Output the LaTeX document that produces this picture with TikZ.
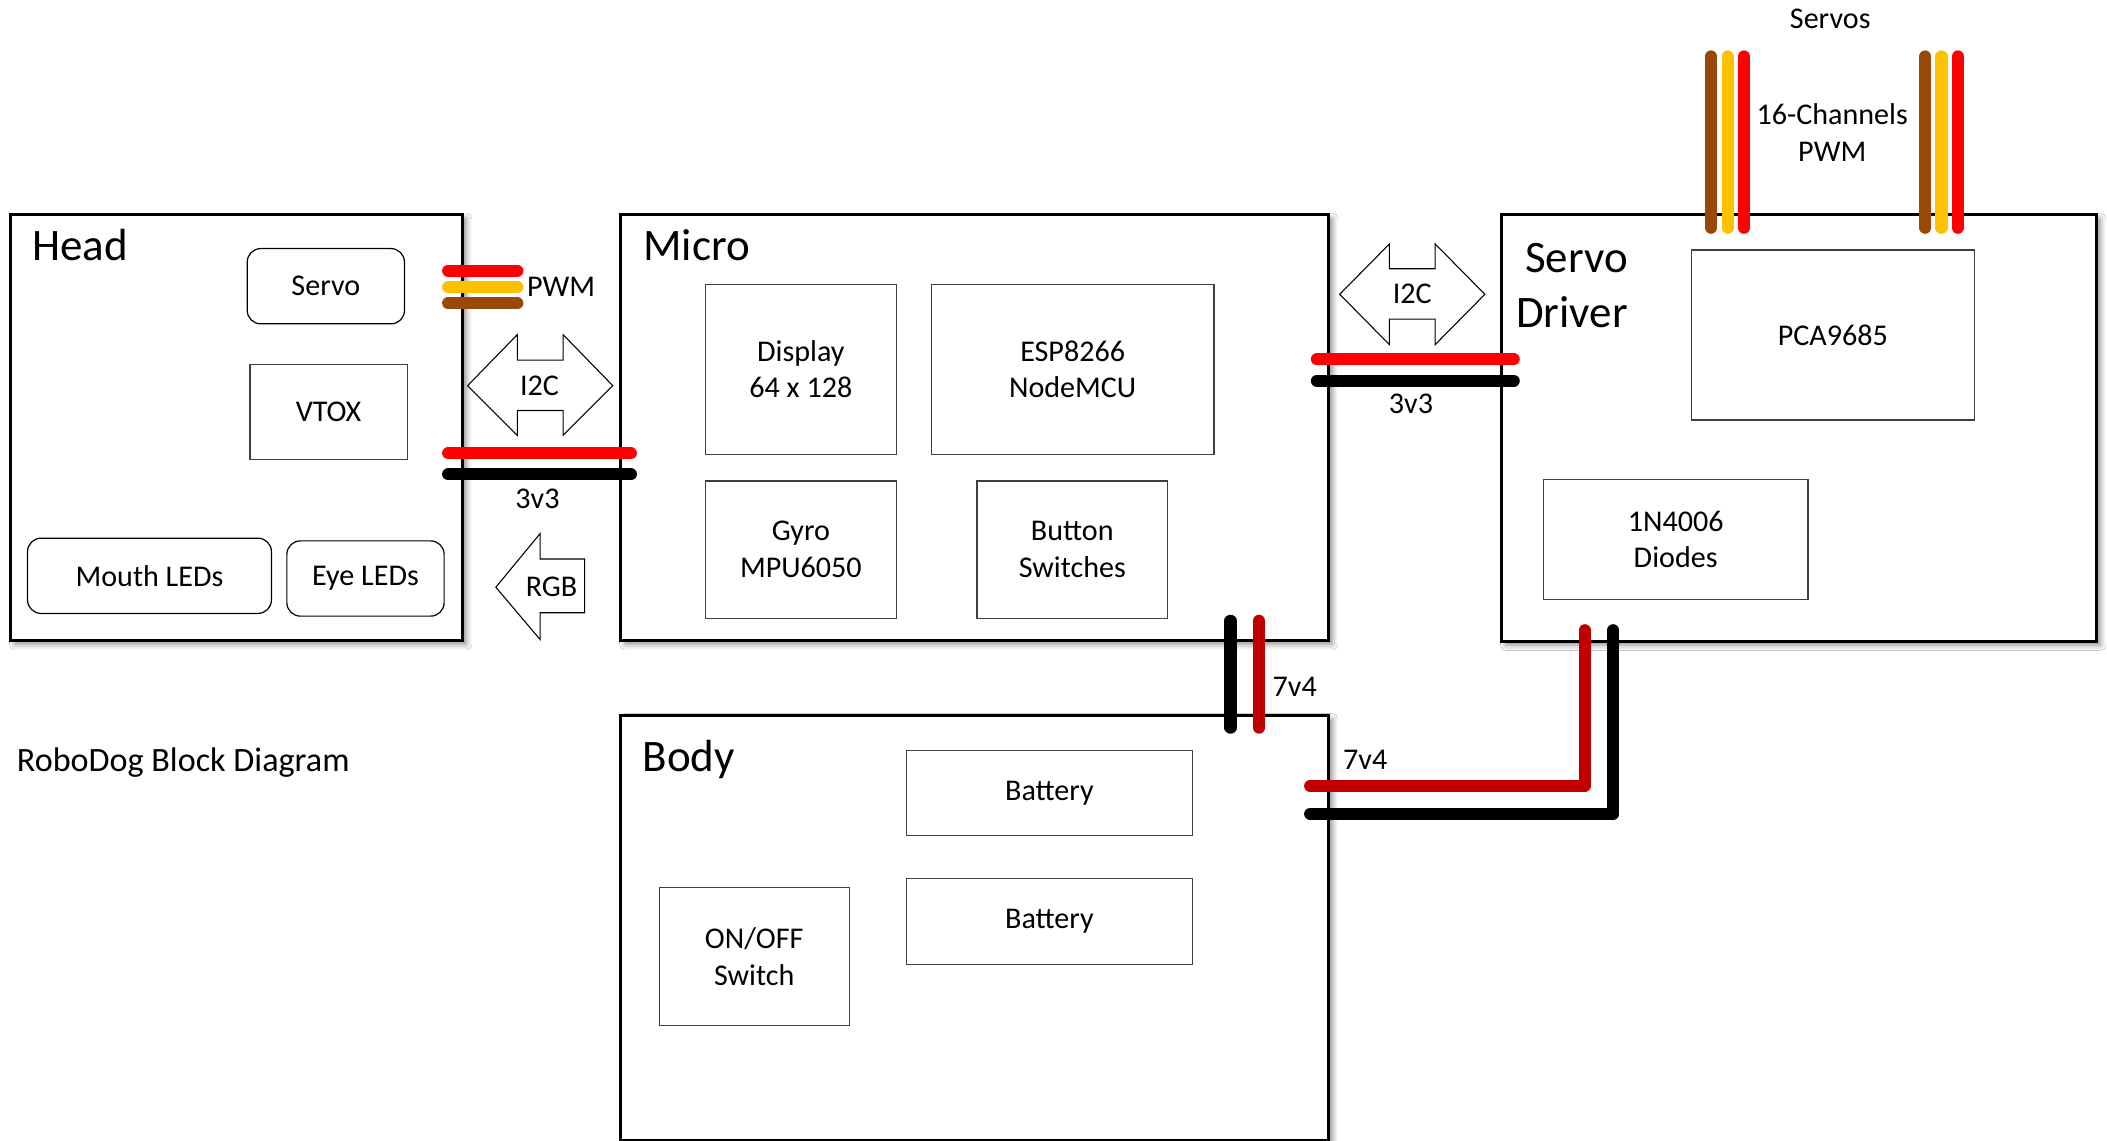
\documentclass[tikz,border=0pt]{standalone}
\usepackage{fontspec}
\setmainfont{Carlito}
\usetikzlibrary{shadows.blur}
\definecolor{wred}{HTML}{FF0000}
\definecolor{wamber}{HTML}{FFC000}
\definecolor{wbrown}{HTML}{984807}
\definecolor{wdred}{HTML}{C00000}
\definecolor{partline}{HTML}{404040}
\begin{document}
\begin{tikzpicture}[x=1pt,y=-1pt,
  txt/.style={font=\fontsize{22.4pt}{27.3pt}\selectfont, inner sep=0pt, align=center},
  bigtxt/.style={font=\fontsize{33.5pt}{41pt}\selectfont, inner sep=0pt},
  block/.style={draw=black, line width=2.2pt, fill=white, inner sep=0pt, anchor=north west,
     blur shadow={shadow xshift=3pt, shadow yshift=-3pt, shadow blur radius=4pt, shadow opacity=45}},
  part/.style={draw=partline, line width=0.9pt, fill=white, inner sep=0pt, txt},
  rpart/.style={part, draw=black, rounded corners=10pt},
  wire/.style={line width=9pt, line cap=round, line join=round},
  flow/.style={draw=black, line width=0.8pt, fill=white, line join=miter},
]
\fill[white] (0,0) rectangle (1568,849);
\useasboundingbox (0,0) rectangle (1568,849);

% ---------- main blocks ----------
\node[block, minimum width=336, minimum height=317] (head) at (7,158.5) {};
\node[block, minimum width=526.5, minimum height=317] (micro) at (461,158.5) {};
\node[block, minimum width=442.5, minimum height=317.5] (driver) at (1116.5,158.5) {};
\node[block, minimum width=526.5, minimum height=316.5] (body) at (461,531) {};

% ---------- block titles ----------
\node[bigtxt, anchor=base west] (headlbl) at (24,194) {Head};
\node[bigtxt, anchor=base west] (microlbl) at (478.5,194) {Micro};
\node[bigtxt, anchor=base west] (bodylbl) at (478,574.5) {Body};
\node[bigtxt, anchor=base east] (drvlbla) at (1211.7,202.9) {Servo};
\node[bigtxt, anchor=base east] (drvlblb) at (1211.7,243.8) {Driver};

% ---------- head parts ----------
\node[rpart, minimum width=117, minimum height=56] (servo) at (242.5,213) {Servo};
\node[part, minimum width=117, minimum height=71] (vtox) at (244.5,306.5) {VTOX};
\node[rpart, minimum width=181.5, minimum height=56] (mouth) at (111.25,428.5) {Mouth LEDs};
\node[rpart, minimum width=117, minimum height=56] (eye) at (272,430.5) {Eye LEDs};

% ---------- micro parts ----------
\node[part, minimum width=142, minimum height=126.5] (display) at (596,274.75) {Display\\64 x 128};
\node[part, minimum width=210.5, minimum height=126.5] (esp) at (798.25,274.75) {ESP8266\\NodeMCU};
\node[part, minimum width=142, minimum height=102] (gyro) at (596,409) {Gyro\\MPU6050};
\node[part, minimum width=142, minimum height=102] (button) at (798,409) {Button\\Switches};

% ---------- driver parts ----------
\node[part, minimum width=211, minimum height=126.5] (pca) at (1364,249.25) {PCA9685};
\node[part, minimum width=197, minimum height=89] (diodes) at (1247,401.5) {1N4006\\Diodes};

% ---------- body parts ----------
\node[part, minimum width=213, minimum height=63.5] (bat1) at (781,590.25) {Battery};
\node[part, minimum width=213, minimum height=64] (bat2) at (781,685.5) {Battery};
\node[part, minimum width=141.5, minimum height=102.5] (onoff) at (561.25,711.75) {ON/OFF\\Switch};

% ---------- flow arrows ----------
\draw[flow] (348,287) -- (385,249) -- (385,268) -- (419,268) -- (419,249) -- (456,287)
   -- (419,324) -- (419,305.5) -- (385,305.5) -- (385,324) -- cycle;
\node[txt] (i2ca) at (401.5,287) {I2C};
\draw[flow] (997,219) -- (1034,181.5) -- (1034,200) -- (1068,200) -- (1068,181.5) -- (1105,219)
   -- (1068,256.5) -- (1068,237.5) -- (1034,237.5) -- (1034,256.5) -- cycle;
\node[txt] (i2cb) at (1051,219) {I2C};
\draw[flow] (369,437) -- (402,397) -- (402,416) -- (435,416) -- (435,456) -- (402,456) -- (402,476) -- cycle;
\node[txt] (rgb) at (410.5,437) {RGB};

% ---------- wires ----------
% head PWM
\draw[wire, wred]   (333.5,201.4) -- (385,201.4);
\draw[wire, wamber] (333.5,213.6) -- (385,213.6);
\draw[wire, wbrown] (333.5,225.7) -- (385,225.7);
\node[txt, anchor=west] (pwmlbl) at (392,213.6) {PWM};
% 3v3 head-micro
\draw[wire, wred]  (333.5,337.3) -- (469.5,337.3);
\draw[wire, black] (333.5,353) -- (469.5,353);
\node[txt] (v33a) at (400,371.4) {3v3};
% 3v3 micro-driver
\draw[wire, wred]  (980,267.4) -- (1126.5,267.4);
\draw[wire, black] (980,283.3) -- (1126.5,283.3);
\node[txt] (v33b) at (1050,300.6) {3v3};
% servo outputs
\draw[wire, wbrown] (1273.3,42) -- (1273.3,169.5);
\draw[wire, wamber] (1285.6,42) -- (1285.6,169.5);
\draw[wire, wred]   (1297.8,42) -- (1297.8,169.5);
\draw[wire, wbrown] (1432.8,42) -- (1432.8,169.5);
\draw[wire, wamber] (1444.8,42) -- (1444.8,169.5);
\draw[wire, wred]   (1457,42) -- (1457,169.5);
\node[txt] (servos) at (1362,14) {Servos};
\node[txt] (chan) at (1363.5,98.5) {16-Channels\\PWM};
% 7v4 micro-body
\draw[wire, black] (915.7,462) -- (915.7,541.5);
\draw[wire, wdred] (937,462) -- (937,541.5);
\node[txt] (v74a) at (963.5,511) {7v4};
% 7v4 body-driver
\draw[wire, wdred] (975,584.8) -- (1179.2,584.8) -- (1179.2,469);
\draw[wire, black] (975,605.6) -- (1200.6,605.6) -- (1200.6,469);
\node[txt] (v74b) at (1016,565.6) {7v4};

% ---------- caption ----------
\node[font=\fontsize{25.4pt}{31pt}\selectfont, inner sep=0pt, anchor=base west] (caption) at (12.4,573.8) {RoboDog Block Diagram};
\end{tikzpicture}
\end{document}
